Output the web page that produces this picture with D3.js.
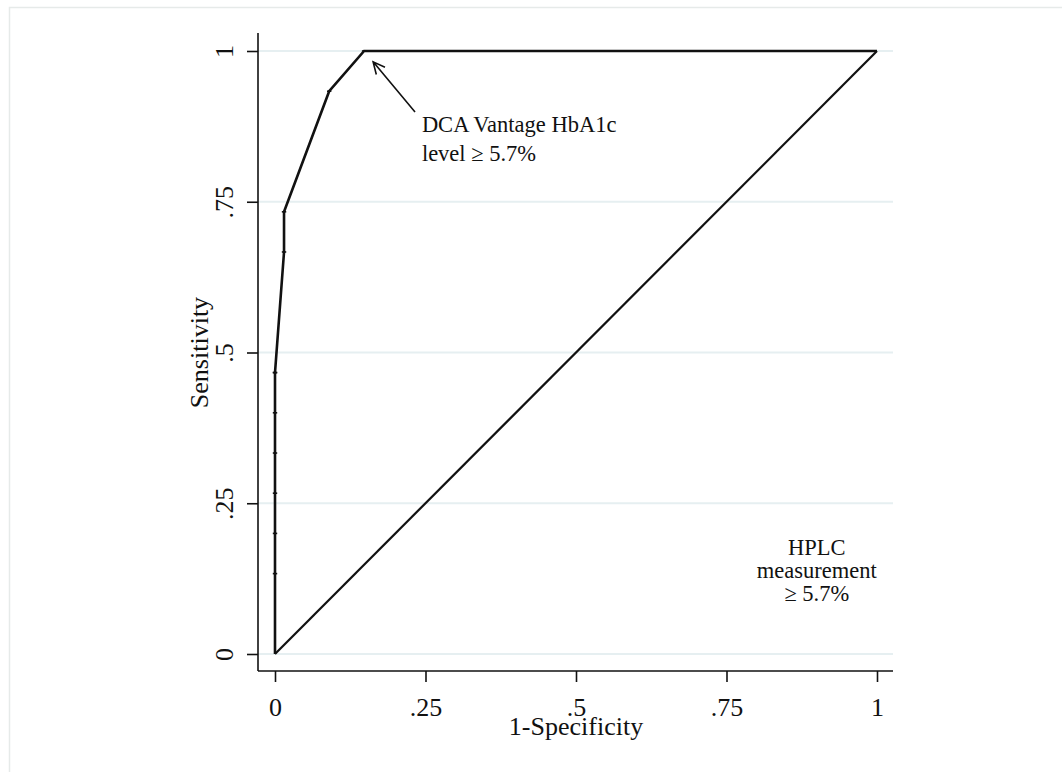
<!DOCTYPE html>
<html>
<head>
<meta charset="utf-8">
<script src="https://cdn.jsdelivr.net/npm/d3@7"></script>
<style>
  body { margin: 0; background: #fff; }
  text { font-family: "Liberation Serif", "DejaVu Serif", serif; fill: #111; }
</style>
</head>
<body>
<div id="chart"></div>
<script>
// ROC points
const fpr = [0, 0, 0, 0, 0, 0, 0, 0, 0.015, 0.015, 0.09, 0.148, 1];
const tpr = [0, 0.1333, 0.2, 0.2667, 0.3333, 0.4, 0.4667, 0.4667, 0.6667, 0.7333, 0.9333, 1, 1];
const refLine = [0, 1];
const tickValues = [0, 0.25, 0.5, 0.75, 1];
const tickLabels = ["0", ".25", ".5", ".75", "1"];
const hplcLines = ["HPLC", "measurement", "\u2265 5.7%"];
const dcaLines = ["DCA Vantage HbA1c", "level \u2265 5.7%"];

const width = 1062, height = 772;

const svg = d3.select('#chart')
  .append('svg')
    .attr('width', width)
    .attr('height', height);

// outer graph region frame
svg.append('rect')
    .attr('x', 9.5).attr('y', 7.5)
    .attr('width', width).attr('height', height)
    .attr('fill', '#fff')
    .attr('stroke', '#e6eae9')
    .attr('stroke-width', 1.5);

const x = d3.scaleLinear().domain([0, 1]).range([275, 877]);
const y = d3.scaleLinear().domain([0, 1]).range([654, 51]);

const plotLeft = 258, plotRight = 893, plotTop = 33, plotBottom = 671;

// grid lines
svg.append('g')
  .selectAll('line')
  .data(tickValues)
  .join('line')
    .attr('x1', plotLeft).attr('x2', plotRight)
    .attr('y1', d => y(d)).attr('y2', d => y(d))
    .attr('stroke', '#e6eff1')
    .attr('stroke-width', 1.8);

// x axis
const xAxis = svg.append('g')
    .attr('transform', `translate(0,${plotBottom})`)
    .call(d3.axisBottom(x).tickValues(tickValues)
      .tickFormat((d, i) => tickLabels[i]).tickSize(11).tickPadding(16).tickSizeOuter(0));
xAxis.select('.domain').remove();
xAxis.append('line')
    .attr('x1', plotLeft).attr('x2', plotRight)
    .attr('stroke', '#111').attr('stroke-width', 1.6);
xAxis.selectAll('.tick line').attr('stroke', '#111').attr('stroke-width', 1.6);
xAxis.selectAll('.tick text')
    .attr('font-size', 26)
    .attr('font-family', '"Liberation Serif", serif')
    .attr('fill', '#111')
    .attr('dy', null)
    .attr('y', 45);

// y axis
const yAxis = svg.append('g')
    .attr('transform', `translate(${plotLeft},0)`)
    .call(d3.axisLeft(y).tickValues(tickValues)
      .tickFormat((d, i) => tickLabels[i]).tickSize(11).tickSizeOuter(0));
yAxis.select('.domain').remove();
yAxis.append('line')
    .attr('y1', plotTop).attr('y2', plotBottom)
    .attr('stroke', '#111').attr('stroke-width', 1.6);
yAxis.selectAll('.tick line').attr('stroke', '#111').attr('stroke-width', 1.6);
yAxis.selectAll('.tick text')
    .attr('font-size', 26)
    .attr('font-family', '"Liberation Serif", serif')
    .attr('fill', '#111')
    .attr('x', null).attr('dy', null)
    .attr('text-anchor', 'middle')
    .attr('transform', 'translate(-25,0) rotate(-90)');

// axis titles
svg.append('text')
    .attr('x', 576).attr('y', 735)
    .attr('text-anchor', 'middle')
    .attr('font-size', 26)
    .text('1-Specificity');

svg.append('text')
    .attr('transform', `translate(208,${y(0.5)}) rotate(-90)`)
    .attr('text-anchor', 'middle')
    .attr('font-size', 26)
    .text('Sensitivity');

// reference diagonal
svg.append('line')
    .attr('x1', x(refLine[0])).attr('y1', y(refLine[0]))
    .attr('x2', x(refLine[1])).attr('y2', y(refLine[1]))
    .attr('stroke', '#111')
    .attr('stroke-width', 2.2);

// ROC curve
const pts = fpr.map((d, i) => [d, tpr[i]]);
svg.append('path')
    .datum(pts)
    .attr('d', d3.line().x(d => x(d[0])).y(d => y(d[1])))
    .attr('fill', 'none')
    .attr('stroke', '#111')
    .attr('stroke-width', 2.6)
    .attr('stroke-linejoin', 'miter');

svg.append('g')
  .selectAll('line')
  .data(pts.slice(1, -1))
  .join('line')
    .attr('x1', d => x(d[0]) - 2.2).attr('x2', d => x(d[0]) + 2.2)
    .attr('y1', d => y(d[1])).attr('y2', d => y(d[1]))
    .attr('stroke', '#111')
    .attr('stroke-width', 1.6);

// arrow annotation
const arrowFrom = [0.2326, 0.899], arrowTo = [0.163, 0.982];
const ax1 = x(arrowFrom[0]), ay1 = y(arrowFrom[1]);
const ax2 = x(arrowTo[0]), ay2 = y(arrowTo[1]);
const ang = Math.atan2(ay1 - ay2, ax1 - ax2);
const barb = 13, spread = 0.45;
svg.append('path')
    .attr('d', `M${ax1},${ay1}L${ax2},${ay2}` +
      `M${ax2 + barb * Math.cos(ang - spread)},${ay2 + barb * Math.sin(ang - spread)}` +
      `L${ax2},${ay2}` +
      `L${ax2 + barb * Math.cos(ang + spread)},${ay2 + barb * Math.sin(ang + spread)}`)
    .attr('fill', 'none')
    .attr('stroke', '#111')
    .attr('stroke-width', 1.6);

svg.append('g')
  .selectAll('text')
  .data(dcaLines)
  .join('text')
    .attr('x', x(0.244))
    .attr('y', (d, i) => y(0.866) + i * 29)
    .attr('font-size', 22.5)
    .text(d => d);

svg.append('g')
  .selectAll('text')
  .data(hplcLines)
  .join('text')
    .attr('x', x(0.9))
    .attr('y', (d, i) => y(0.164) + i * 23)
    .attr('text-anchor', 'middle')
    .attr('font-size', 22.5)
    .text(d => d);
</script>
</body>
</html>
